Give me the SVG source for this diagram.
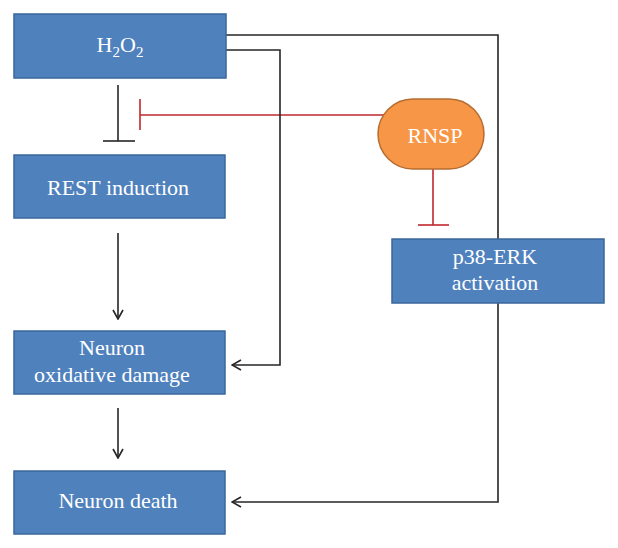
<svg xmlns="http://www.w3.org/2000/svg" width="618" height="548" viewBox="0 0 618 548">
<style>
.box{fill:#4F81BD;stroke:#3A679C;stroke-width:1.5}
.t{font-family:"Liberation Serif","Times New Roman",serif;font-size:22px;fill:#fff;text-anchor:middle}
.k{fill:none;stroke:#262626;stroke-width:1.6}
.r{fill:none;stroke:#C0272D;stroke-width:1.6}
</style>
<defs>
<marker id="arr" viewBox="0 0 12 12" refX="11" refY="6" markerWidth="12" markerHeight="12" markerUnits="userSpaceOnUse" orient="auto">
<polyline points="2,1 11,6 2,11" fill="none" stroke="#262626" stroke-width="1.6"/>
</marker>
</defs>
<g id="connectors">
<line class="k" x1="118" y1="85" x2="118" y2="141"/>
<line class="k" x1="103" y1="141" x2="135" y2="141"/>
<line class="r" x1="140" y1="115" x2="384" y2="115"/>
<line class="r" x1="140" y1="99" x2="140" y2="130"/>
<line class="r" x1="433" y1="169" x2="433" y2="225"/>
<line class="r" x1="418" y1="225" x2="449" y2="225"/>
<line class="k" x1="118" y1="233" x2="118" y2="319" marker-end="url(#arr)"/>
<line class="k" x1="118" y1="408" x2="118" y2="458" marker-end="url(#arr)"/>
<polyline class="k" points="226,50 280,50 280,365 232,365" marker-end="url(#arr)"/>
<polyline class="k" points="226,35 498,35 498,502 232,502" marker-end="url(#arr)"/>
</g>
<g id="h2o2">
<rect class="box" x="14" y="14" width="212" height="64"/>
<text class="t" x="120" y="52">H<tspan font-size="15" dy="5">2</tspan><tspan dy="-5">O</tspan><tspan font-size="15" dy="5">2</tspan></text>
</g>
<g id="rest">
<rect class="box" x="14" y="155" width="211" height="63"/>
<text class="t" x="118" y="195">REST induction</text>
</g>
<g id="damage">
<rect class="box" x="14" y="331" width="211" height="63"/>
<text class="t" x="112" y="355">Neuron</text>
<text class="t" x="112" y="382">oxidative damage</text>
</g>
<g id="death">
<rect class="box" x="14" y="471" width="211" height="63"/>
<text class="t" x="118" y="508">Neuron death</text>
</g>
<g id="rnsp">
<rect x="378" y="99" width="106" height="70" rx="35" ry="35" fill="#F79646" stroke="#B66D31" stroke-width="1.5"/>
<text class="t" x="435" y="143">RNSP</text>
</g>
<g id="p38">
<rect class="box" x="392" y="239" width="212" height="64"/>
<text class="t" x="495" y="264">p38-ERK</text>
<text class="t" x="495" y="290">activation</text>
</g>
</svg>
